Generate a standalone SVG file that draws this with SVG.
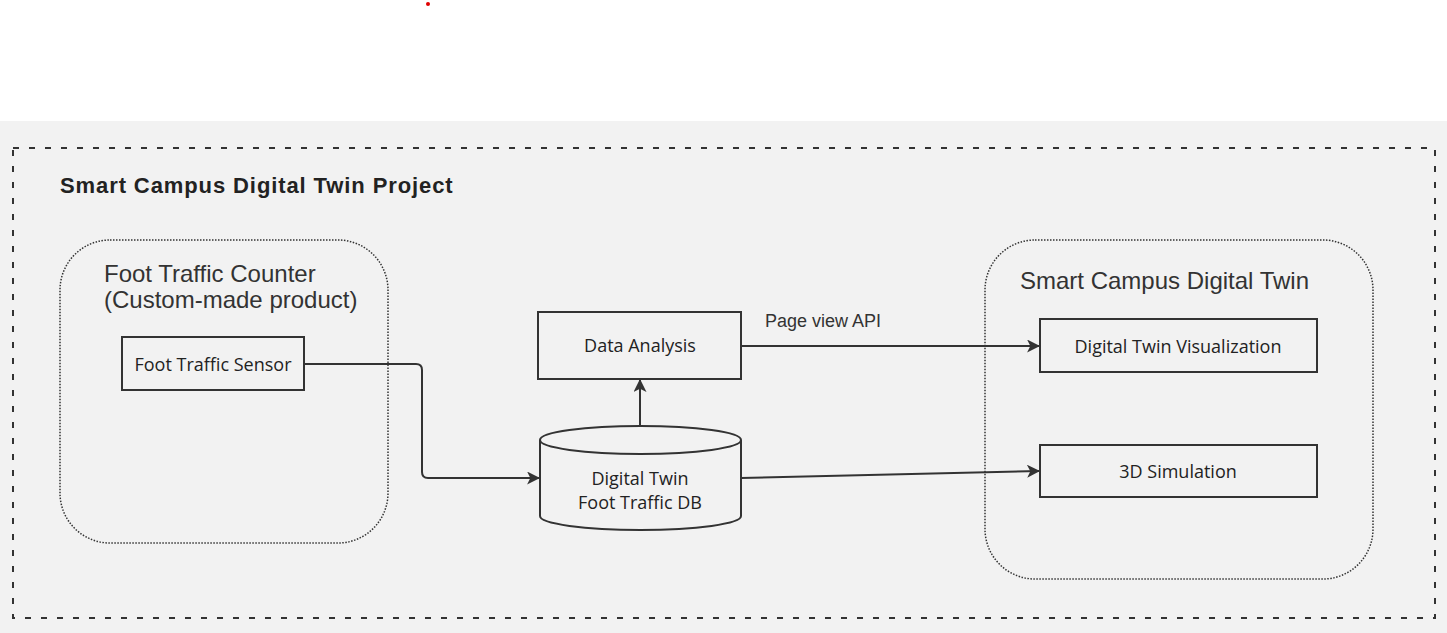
<svg xmlns="http://www.w3.org/2000/svg" width="1447" height="633" viewBox="0 0 1447 633">
  <style>
    .box { fill: none; stroke: #333; stroke-width: 2; }
    .grp { fill: none; stroke: #333; stroke-width: 1.5; stroke-dasharray: 1.5 1.5; }
    .lbl { font-family: "Open Sans", "Liberation Sans", sans-serif; font-size: 18px; fill: #222; text-anchor: middle; }
    .gtitle { font-family: "Liberation Sans", Arial, sans-serif; font-size: 24px; fill: #333; }
    .edge { fill: none; stroke: #333; stroke-width: 2; }
  </style>
  <defs>
    <marker id="arrow" viewBox="0 0 12 12" refX="11" refY="6" markerWidth="13" markerHeight="13" markerUnits="userSpaceOnUse" orient="auto">
      <path d="M0,0 L12,6 L0,12 L3,6 Z" fill="#333"/>
    </marker>
  </defs>

  <rect x="0" y="0" width="1447" height="633" fill="#ffffff"/>
  <circle cx="428" cy="4" r="2" fill="#e00000"/>
  <rect x="0" y="121" width="1447" height="512" fill="#f2f2f2"/>

  <!-- outer project frame -->
  <g id="project">
    <rect x="13" y="148" width="1422" height="470" fill="none" stroke="#333" stroke-width="2" stroke-dasharray="6 10"/>
    <text x="60" y="193" font-family="Liberation Sans, Arial, sans-serif" font-size="22" font-weight="bold" letter-spacing="0.9" fill="#222">Smart Campus Digital Twin Project</text>
  </g>

  <!-- group: foot traffic counter -->
  <g id="counter-group">
    <rect class="grp" x="60" y="240" width="328" height="303" rx="50" ry="50"/>
    <text class="gtitle" x="104" y="282">Foot Traffic Counter</text>
    <text class="gtitle" x="104" y="308">(Custom-made product)</text>
  </g>

  <!-- group: smart campus digital twin -->
  <g id="twin-group">
    <rect class="grp" x="985" y="240" width="388" height="339" rx="50" ry="50"/>
    <text class="gtitle" x="1020" y="289">Smart Campus Digital Twin</text>
  </g>

  <!-- connectors -->
  <g id="connectors">
    <path class="edge" d="M304,364 H416 Q422,364 422,370 V472 Q422,478 428,478 H539" marker-end="url(#arrow)"/>
    <path class="edge" d="M640,426 V380" marker-end="url(#arrow)"/>
    <path class="edge" d="M741,346 H1039" marker-end="url(#arrow)"/>
    <text x="765" y="327" font-family="Liberation Sans, Arial, sans-serif" font-size="18" fill="#333">Page view API</text>
    <path class="edge" d="M741,478 L1039,471" marker-end="url(#arrow)"/>
  </g>

  <g id="sensor">
    <rect class="box" x="122" y="337" width="182" height="53"/>
    <text class="lbl" x="213" y="371">Foot Traffic Sensor</text>
  </g>

  <g id="analysis">
    <rect class="box" x="538" y="312" width="203" height="67"/>
    <text class="lbl" x="640" y="352">Data Analysis</text>
  </g>

  <g id="db">
    <path class="box" fill="#f2f2f2" d="M540,440 A100.5,14 0 0 1 741,440 V516 A100.5,14 0 0 1 540,516 Z"/>
    <path class="box" d="M540,440 A100.5,14 0 0 0 741,440"/>
    <text class="lbl" x="640" y="485">Digital Twin</text>
    <text class="lbl" x="640" y="509">Foot Traffic DB</text>
  </g>

  <g id="visualization">
    <rect class="box" x="1040" y="319" width="277" height="53"/>
    <text class="lbl" x="1178" y="353">Digital Twin Visualization</text>
  </g>

  <g id="simulation">
    <rect class="box" x="1040" y="445" width="277" height="52"/>
    <text class="lbl" x="1178" y="478">3D Simulation</text>
  </g>
</svg>
